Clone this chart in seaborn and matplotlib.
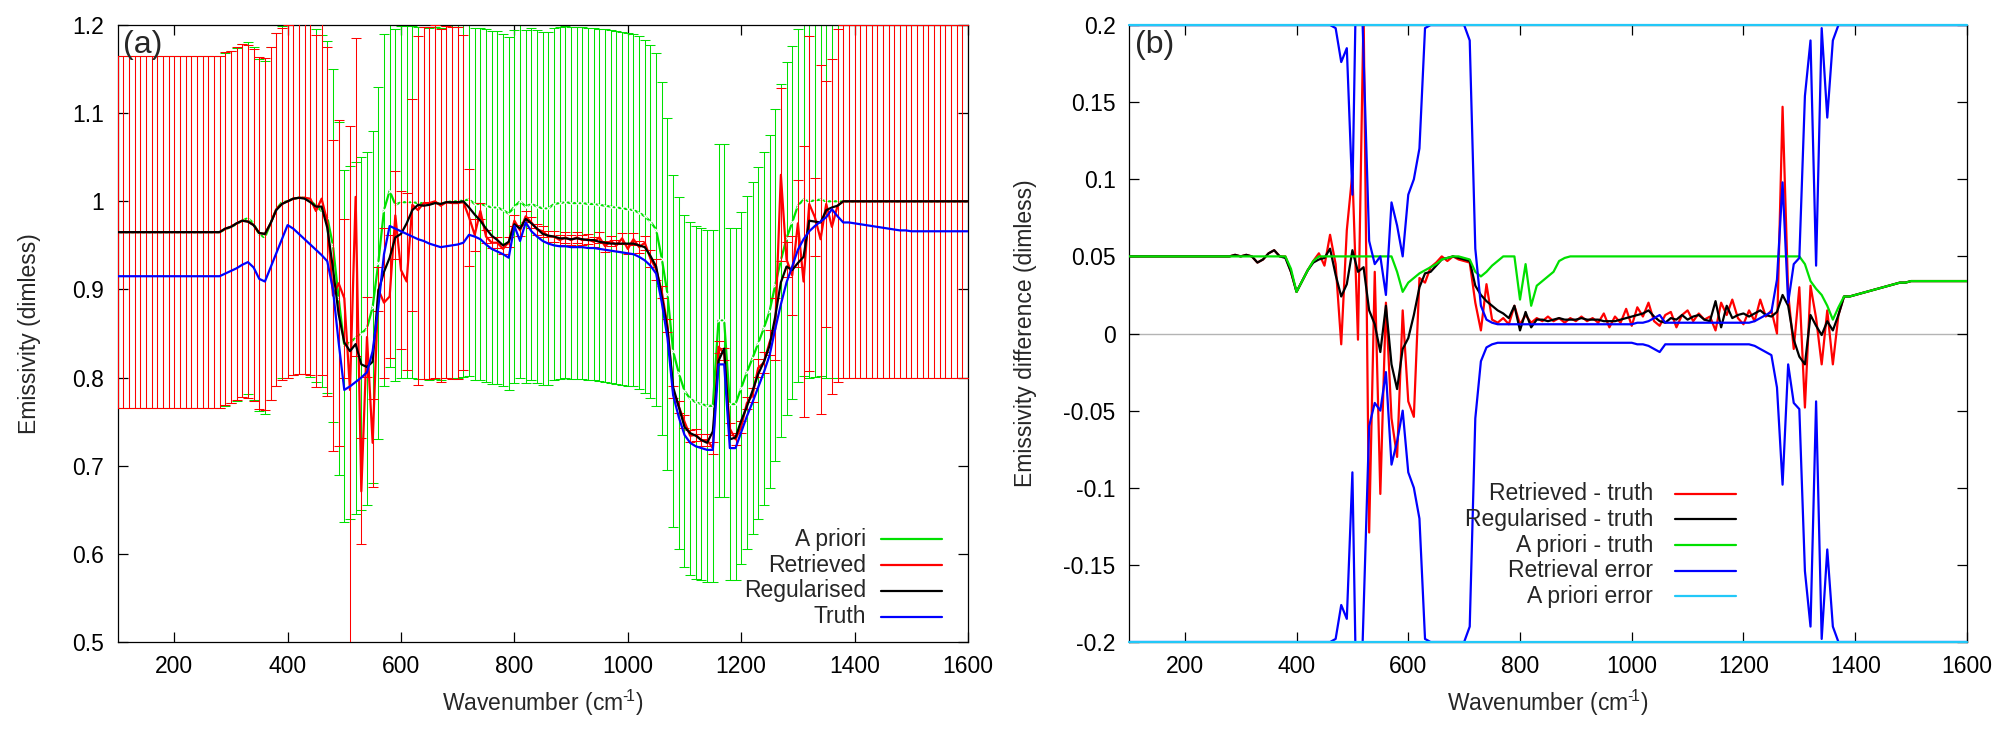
import numpy as np
import pandas as pd
import matplotlib
matplotlib.use('Agg')
import matplotlib.pyplot as plt
from matplotlib.ticker import FuncFormatter, MultipleLocator
import seaborn as sns

# sampling grid (cm-1)
wavenumber = list(range(100, 1601, 10))

# truth emissivity
truth = (
    [0.915] * 10 +
    [0.915] * 9 + [0.918] +
    [0.921, 0.924, 0.928, 0.931, 0.925, 0.912, 0.909, 0.925, 0.941, 0.957] +
    [0.973, 0.969, 0.963, 0.957, 0.951, 0.945, 0.939, 0.932, 0.900, 0.840] +
    [0.786, 0.790, 0.795, 0.800, 0.806, 0.830, 0.880, 0.940, 0.972, 0.969] +
    [0.966, 0.963, 0.960, 0.957, 0.955, 0.952, 0.950, 0.948, 0.949, 0.950] +
    [0.951, 0.953, 0.962, 0.960, 0.957, 0.951, 0.946, 0.943, 0.940, 0.936] +
    [0.972, 0.955, 0.976, 0.966, 0.960, 0.955, 0.952, 0.950, 0.949, 0.949] +
    [0.948, 0.948, 0.948, 0.947, 0.947, 0.946, 0.945, 0.944, 0.943, 0.942] +
    [0.941, 0.940, 0.937, 0.933, 0.927, 0.918, 0.885, 0.845, 0.780, 0.755] +
    [0.735, 0.726, 0.722, 0.720, 0.718, 0.718, 0.815, 0.815, 0.720, 0.720] +
    [0.738, 0.756, 0.772, 0.789, 0.806, 0.825, 0.855, 0.883, 0.908, 0.926] +
    [0.945, 0.957, 0.966, 0.972, 0.977, 0.982, 0.991, 0.983, 0.976, 0.976] +
    [0.975, 0.974, 0.973, 0.972, 0.971, 0.970, 0.969, 0.968, 0.967, 0.967] +
    [0.966] * 10 + [0.966]
)

# differences to truth
apriori_diff = (
    [0.05] * 10 +
    [0.05] * 10 +
    [0.05] * 9 + [0.042] +
    [0.027, 0.034, 0.041, 0.047, 0.05, 0.05, 0.05, 0.05, 0.05, 0.05] +
    [0.05] * 8 + [0.040, 0.027] +
    [0.033, 0.036, 0.039, 0.041, 0.043, 0.045, 0.048, 0.049, 0.05, 0.05] +
    [0.049, 0.048, 0.040, 0.037, 0.040, 0.044, 0.047, 0.05, 0.05, 0.05] +
    [0.022, 0.045, 0.018, 0.031, 0.034, 0.037, 0.040, 0.047, 0.049, 0.05] +
    [0.05] * 40 +
    [0.05, 0.045, 0.034, 0.029, 0.025, 0.018, 0.009, 0.017, 0.024, 0.024] +
    [0.025, 0.026, 0.027, 0.028, 0.029, 0.030, 0.031, 0.032, 0.033, 0.033] +
    [0.034] * 10 + [0.034]
)

regularised_diff = (
    [0.05] * 10 +
    [0.05] * 9 + [0.051] +
    [0.050, 0.051, 0.050, 0.046, 0.048, 0.052, 0.054, 0.050, 0.049, 0.040] +
    [0.027, 0.034, 0.041, 0.046, 0.048, 0.049, 0.055, 0.038, 0.024, 0.032] +
    [0.054, 0.040, 0.043, 0.015, 0.006, -0.012, 0.018, -0.020, -0.036, -0.010] +
    [-0.003, 0.012, 0.030, 0.039, 0.040, 0.044, 0.048, 0.049, 0.050, 0.049] +
    [0.048, 0.047, 0.031, 0.025, 0.021, 0.018, 0.015, 0.013, 0.010, 0.018] +
    [0.002, 0.014, 0.004, 0.009, 0.009, 0.008, 0.009, 0.010, 0.009, 0.009] +
    [0.009, 0.010, 0.009, 0.009, 0.009, 0.008, 0.008, 0.008, 0.009, 0.010] +
    [0.011, 0.012, 0.013, 0.015, 0.011, 0.008, 0.007, 0.010, 0.009, 0.012] +
    [0.009, 0.011, 0.012, 0.009, 0.008, 0.021, 0.004, 0.018, 0.010, 0.012] +
    [0.013, 0.011, 0.013, 0.015, 0.012, 0.011, 0.014, 0.025, 0.018, -0.004] +
    [-0.015, -0.020, 0.012, 0.005, -0.001, 0.008, 0.002, 0.012, 0.024, 0.024] +
    [0.025, 0.026, 0.027, 0.028, 0.029, 0.030, 0.031, 0.032, 0.033, 0.033] +
    [0.034] * 10 + [0.034]
)

retrieved_diff = (
    [0.05] * 10 +
    [0.05] * 9 + [0.051] +
    [0.050, 0.051, 0.050, 0.046, 0.048, 0.052, 0.054, 0.050, 0.050, 0.040] +
    [0.027, 0.034, 0.041, 0.047, 0.052, 0.044, 0.064, 0.045, -0.007, 0.067] +
    [0.104, -0.004, 0.210, -0.129, 0.040, -0.104, 0.020, -0.055, -0.080, 0.015] +
    [-0.044, -0.054, 0.036, 0.033, 0.043, 0.046, 0.050, 0.047, 0.050, 0.048] +
    [0.047, 0.046, 0.020, 0.002, 0.032, 0.009, 0.007, 0.010, 0.006, 0.018] +
    [0.006, 0.012, 0.007, 0.010, 0.008, 0.011, 0.008, 0.010, 0.007, 0.010] +
    [0.008, 0.011, 0.008, 0.010, 0.007, 0.013, 0.004, 0.011, 0.007, 0.016] +
    [0.005, 0.017, 0.011, 0.020, 0.008, 0.005, 0.012, 0.014, 0.004, 0.012] +
    [0.015, 0.008, 0.013, 0.009, 0.011, 0.002, 0.020, 0.012, 0.022, 0.010] +
    [0.006, 0.015, 0.008, 0.022, 0.011, 0.015, 0.000, 0.147, 0.026, -0.010] +
    [0.030, -0.048, 0.031, 0.010, -0.020, 0.015, -0.020, 0.012, 0.024, 0.024] +
    [0.025, 0.026, 0.027, 0.028, 0.029, 0.030, 0.031, 0.032, 0.033, 0.033] +
    [0.034] * 10 + [0.034]
)

retrieval_err = (
    [0.2] * 30 +
    [0.2] * 7 + [0.198, 0.176, 0.185] +
    [0.09, 0.30, 0.18, 0.06, 0.045, 0.05, 0.025, 0.085, 0.07, 0.05] +
    [0.09, 0.10, 0.12, 0.198, 0.2, 0.2, 0.2, 0.2, 0.2, 0.2] +
    [0.2, 0.19, 0.055, 0.018, 0.009, 0.007, 0.006, 0.006, 0.006, 0.006] +
    [0.006] * 20 +
    [0.006, 0.007, 0.007, 0.008, 0.010, 0.012, 0.007, 0.007, 0.007, 0.007] +
    [0.007] * 10 +
    [0.007, 0.007, 0.008, 0.010, 0.012, 0.014, 0.035, 0.098, 0.020, 0.045] +
    [0.049, 0.154, 0.19, 0.044, 0.198, 0.14, 0.19, 0.2, 0.2, 0.2] +
    [0.2] * 21
)

apriori_err = [0.2] * len(wavenumber)

legend_a = ['A priori', 'Retrieved', 'Regularised', 'Truth']
legend_b = ['Retrieved - truth', 'Regularised - truth', 'A priori - truth',
            'Retrieval error', 'A priori error']

df = pd.DataFrame({
    'wn': wavenumber,
    'truth': truth,
    'd_apr': apriori_diff,
    'd_ret': retrieved_diff,
    'd_reg': regularised_diff,
    'ret_err': retrieval_err,
    'apr_err': apriori_err,
})
df['apriori'] = df['truth'] + df['d_apr']
df['retrieved'] = df['truth'] + df['d_ret']
df['regularised'] = df['truth'] + df['d_reg']
df['neg_ret_err'] = -df['ret_err']
df['neg_apr_err'] = -df['apr_err']

GREEN = '#00e000'
RED = '#ff0000'
BLUE = '#0000ff'
CYAN = '#22c8f8'
BLACK = '#000000'
FS = 16.5

sns.set_theme(style='ticks')
plt.rcParams['font.family'] = ['Liberation Sans', 'DejaVu Sans']
plt.rcParams['font.size'] = FS
plt.rcParams['mathtext.fontset'] = 'custom'
plt.rcParams['mathtext.rm'] = 'Liberation Sans'
plt.rcParams['axes.linewidth'] = 0.9
plt.rcParams['axes.edgecolor'] = 'black'

fig = plt.figure(figsize=(20.12, 7.36), dpi=100)
ax_a = fig.add_axes([0.0584, 0.1277, 0.4227, 0.8383])
ax_b = fig.add_axes([0.5611, 0.1277, 0.4165, 0.8383])

fmt = FuncFormatter(lambda v, p: '%g' % round(v, 4))
for ax in (ax_a, ax_b):
    ax.set_xlim(100, 1600)
    ax.xaxis.set_major_locator(MultipleLocator(200))
    ax.yaxis.set_major_formatter(fmt)
    ax.tick_params(direction='in', length=7, width=0.9, top=True, right=True,
                   pad=9.5, labelsize=FS, colors='black')
    # plain hyphen in the exponent, as in the original gnuplot figure
    ax.set_xlabel('Wavenumber (cm$^{\u2010\\!1}$)', fontsize=FS)
    ax.xaxis.set_label_coords(0.5, -0.075)
    ax.xaxis.label.set_va('top')


def key(ax, labels, colors, x_text, x_line, y_top, dy):
    # gnuplot-like key: right-aligned text followed by a line sample
    for i, (lab, c) in enumerate(zip(labels, colors)):
        y = y_top - i * dy
        ax.text(x_text, y, lab, transform=ax.transAxes, ha='right', va='center',
                fontsize=FS, zorder=10)
        ax.plot(x_line, [y, y], transform=ax.transAxes, color=c, lw=1.6,
                clip_on=False, zorder=10)


# ---------------- panel (a)
lw = 1.6
eb = dict(fmt='none', elinewidth=0.75, capsize=3.5, capthick=0.75)
ax_a.errorbar(df['wn'], df['apriori'], yerr=df['apr_err'], ecolor=GREEN, zorder=1, **eb)
sns.lineplot(data=df, x='wn', y='apriori', color=GREEN, lw=lw, ax=ax_a, zorder=2,
             marker='x', markersize=3, markeredgewidth=0.8, legend=False)
ax_a.errorbar(df['wn'], df['retrieved'], yerr=df['ret_err'], ecolor=RED, zorder=3, **eb)
sns.lineplot(data=df, x='wn', y='retrieved', color=RED, lw=lw, ax=ax_a, zorder=4, legend=False)
sns.lineplot(data=df, x='wn', y='regularised', color=BLACK, lw=lw, ax=ax_a, zorder=5, legend=False)
sns.lineplot(data=df, x='wn', y='truth', color=BLUE, lw=lw, ax=ax_a, zorder=6, legend=False)

ax_a.set_ylim(0.5, 1.2)
ax_a.yaxis.set_major_locator(MultipleLocator(0.1))
ax_a.set_ylabel('Emissivity (dimless)', fontsize=FS)
ax_a.yaxis.set_label_coords(-0.09, 0.5)
ax_a.text(0.007, 0.992, '(a)', transform=ax_a.transAxes, ha='left', va='top', fontsize=23)
key(ax_a, legend_a, [GREEN, RED, BLACK, BLUE], 0.880, [0.8977, 0.9694], 0.1669, 0.0421)

# ---------------- panel (b)
ax_b.axhline(0, color='#b4b4b4', lw=1.0, zorder=0)
sns.lineplot(data=df, x='wn', y='d_ret', color=RED, lw=lw, ax=ax_b, zorder=2, legend=False)
sns.lineplot(data=df, x='wn', y='d_reg', color=BLACK, lw=lw, ax=ax_b, zorder=3, legend=False)
sns.lineplot(data=df, x='wn', y='d_apr', color=GREEN, lw=lw, ax=ax_b, zorder=4, legend=False)
sns.lineplot(data=df, x='wn', y='ret_err', color=BLUE, lw=lw, ax=ax_b, zorder=5, legend=False)
sns.lineplot(data=df, x='wn', y='neg_ret_err', color=BLUE, lw=lw, ax=ax_b, zorder=5, legend=False)
sns.lineplot(data=df, x='wn', y='apr_err', color=CYAN, lw=lw, ax=ax_b, zorder=6, legend=False,
             clip_on=False)
sns.lineplot(data=df, x='wn', y='neg_apr_err', color=CYAN, lw=lw, ax=ax_b, zorder=6, legend=False,
             clip_on=False)

ax_b.set_ylim(-0.2, 0.2)
ax_b.yaxis.set_major_locator(MultipleLocator(0.05))
ax_b.set_ylabel('Emissivity difference (dimless)', fontsize=FS)
ax_b.yaxis.set_label_coords(-0.1098, 0.5)
ax_b.text(0.007, 0.992, '(b)', transform=ax_b.transAxes, ha='left', va='top', fontsize=23)
key(ax_b, legend_b, [RED, BLACK, GREEN, BLUE, CYAN], 0.6253, [0.6516, 0.7243], 0.2402, 0.0416)

fig.savefig('out.png', dpi=100)
